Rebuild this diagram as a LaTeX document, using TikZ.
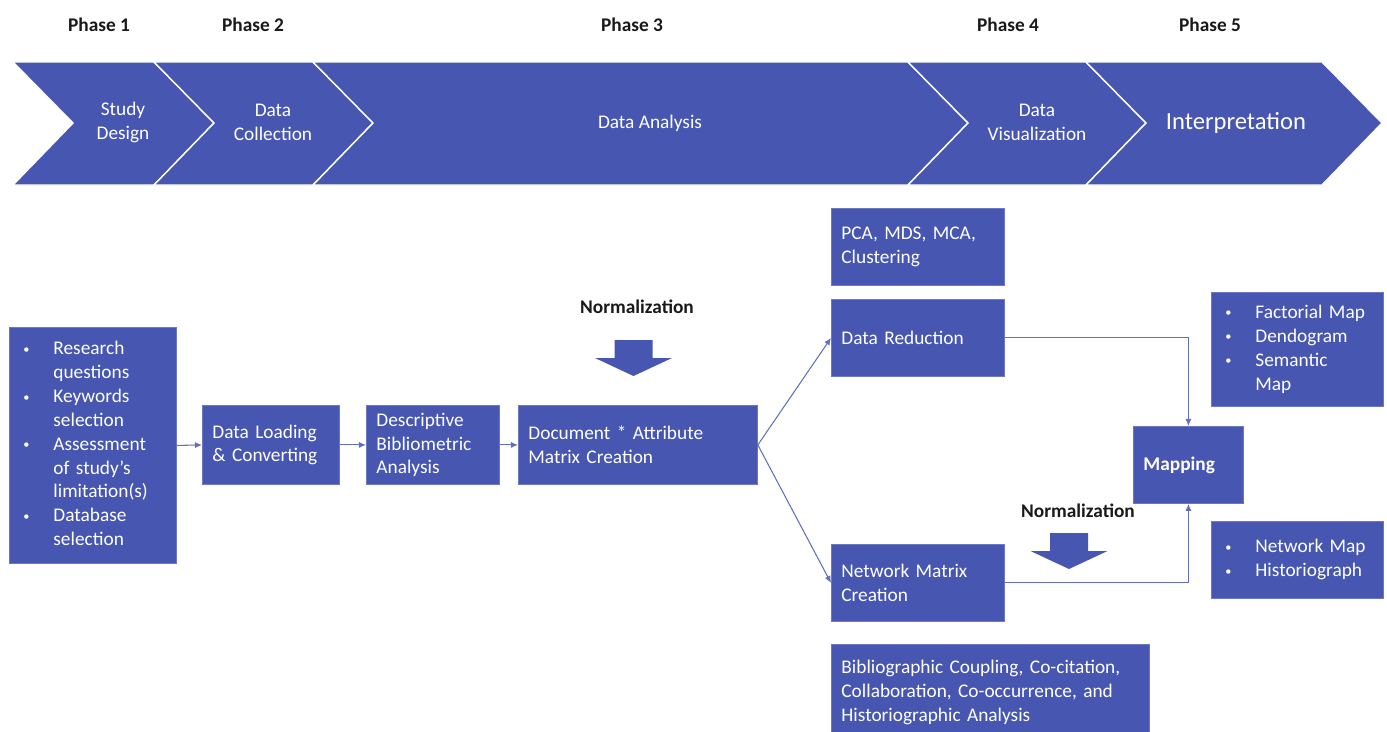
\documentclass[tikz,border=0pt]{standalone}
\usepackage{fontspec}
\setmainfont{Carlito}
\usetikzlibrary{arrows.meta}
\definecolor{flowblue}{RGB}{71,86,176}
\definecolor{labelblack}{RGB}{25,25,25}
\newcommand{\boxfont}{\fontsize{11}{13.6}\selectfont}
\newcommand{\bul}{\raisebox{0.15ex}{\scriptsize\textbullet}}
\newcommand{\bulletlist}[1]{\begin{tabular}{@{\hspace{0.08cm}}p{0.6cm}@{}l@{}}#1\end{tabular}}
\tikzset{
  stepbox/.style={fill=flowblue, draw=flowblue!80!white, line width=0.5pt, anchor=north west,
    inner xsep=0.2cm, inner ysep=0pt, text=white, font=\boxfont, align=left},
  flowline/.style={draw=flowblue!85!white, line width=0.6pt, -{Latex[length=4pt,width=3.5pt]}},
  phaselabel/.style={font=\boxfont\bfseries, text=labelblack},
  chevlabel/.style={font=\boxfont, text=white, align=center},
}

\begin{document}
\begin{tikzpicture}[x=0.02cm, y=-0.02cm]
  \useasboundingbox (0,0) rectangle (1387,731);
  \clip (0,0) rectangle (1387,731);

  % Phase band
  \foreach \x/\n in {99/1, 253/2, 632/3, 1008/4, 1210/5}
    \node[phaselabel] (phase\n) at (\x,25) {Phase \n};
  \foreach \l/\r in {13/154, 154/313, 313/908, 908/1086, 1086/1322}
    \filldraw[fill=flowblue, draw=white, line width=0.8pt]
      (\l,62) -- (\r,62) -- ++(60,61) -- (\r,185) -- (\l,185) -- ++(60,-62) -- cycle;
  \node[chevlabel] (cdesign) at (123,122) {Study\\Design};
  \node[chevlabel] (ccollect) at (273,122) {Data\\Collection};
  \node[chevlabel] (canalysis) at (650,123) {Data Analysis};
  \node[chevlabel] (cvisual) at (1037,122) {Data\\Visualization};
  \node[chevlabel, font=\fontsize{14}{17}\selectfont] (cinterp) at (1236,123) {Interpretation};

  % Workflow boxes
  \node[stepbox, text width=2.94cm, minimum height=4.72cm] (design) at (9,327)
    {\bulletlist{\bul & Research\\ & questions\\ \bul & Keywords\\ & selection\\
      \bul & Assessment\\ & of study’s\\ & limitation(s)\\ \bul & Database\\ & selection}};
  \node[stepbox, text width=2.34cm, minimum height=1.58cm] (loading) at (202,405)
    {Data Loading\\\& Converting};
  \node[stepbox, text width=2.26cm, minimum height=1.58cm] (descriptive) at (366,405)
    {Descriptive\\Bibliometric\\Analysis};
  \node[stepbox, text width=4.38cm, minimum height=1.58cm] (docmatrix) at (518,405)
    {Document * Attribute\\Matrix Creation};
  \node[stepbox, text width=3.06cm, minimum height=1.54cm] (pcabox) at (831,208)
    {PCA, MDS, MCA,\\Clustering};
  \node[stepbox, text width=3.06cm, minimum height=1.54cm] (reduction) at (831,299)
    {Data Reduction};
  \node[stepbox, text width=3.06cm, minimum height=1.54cm] (netmatrix) at (831,544)
    {Network Matrix\\Creation};
  \node[stepbox, text width=5.96cm, minimum height=1.92cm] (couplingbox) at (831,644)
    {Bibliographic Coupling, Co-citation,\\Collaboration, Co-occurrence, and\\Historiographic Analysis};
  \node[stepbox, text width=1.8cm, minimum height=1.54cm, font=\boxfont\bfseries] (mapping) at (1133,426)
    {Mapping};
  \node[stepbox, text width=3.04cm, minimum height=2.28cm] (factorialbox) at (1211,292)
    {\bulletlist{\bul & Factorial Map\\ \bul & Dendogram\\ \bul & Semantic\\ & Map}};
  \node[stepbox, text width=3.04cm, minimum height=1.54cm] (netmapbox) at (1211,521)
    {\bulletlist{\bul & Network Map\\ \bul & Historiograph}};

  % Normalization arrows
  \foreach \cx/\ty in {633.5/340, 1069/533}
    \fill[flowblue] (\cx-19,\ty) -- (\cx+19,\ty) -- (\cx+19,\ty+18) -- (\cx+38.5,\ty+18)
      -- (\cx,\ty+36) -- (\cx-38.5,\ty+18) -- (\cx-19,\ty+18) -- cycle;
  \node[phaselabel] (norm1) at (637,307) {Normalization};
  \node[phaselabel] (norm2) at (1078,511) {Normalization};

  % Connectors
  \draw[flowline] (design.east) -- (loading.west);
  \draw[flowline] (loading) -- (descriptive);
  \draw[flowline] (descriptive) -- (docmatrix);
  \draw[flowline] (docmatrix.east) -- (reduction.west);
  \draw[flowline] (docmatrix.east) -- (netmatrix.west);
  \draw[flowline] (reduction.east) -| (mapping.north);
  \draw[flowline] (netmatrix.east) -| (mapping.south);
\end{tikzpicture}
\end{document}
